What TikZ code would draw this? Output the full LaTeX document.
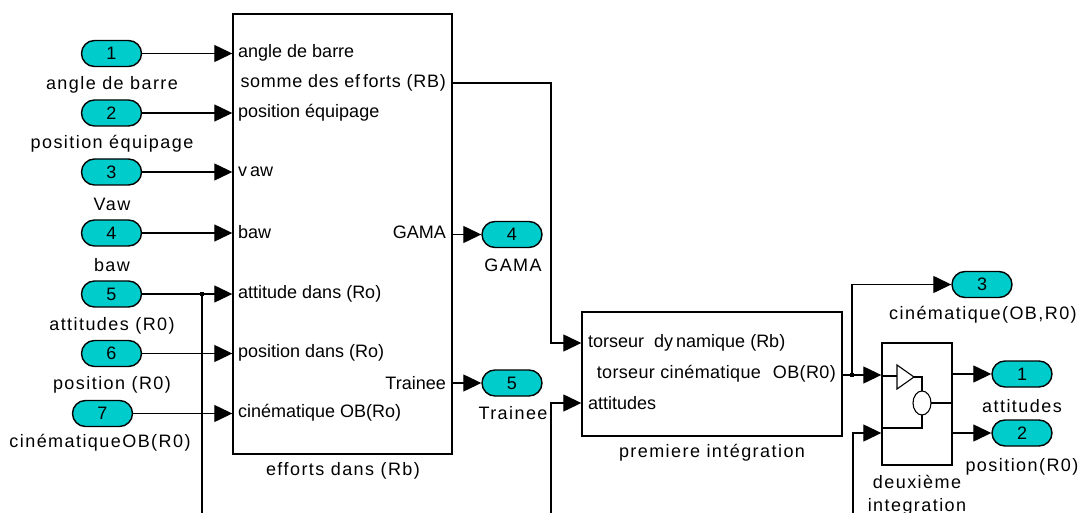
\documentclass[tikz,border=0pt]{standalone}
\usepackage{fontspec}
\setmainfont{Liberation Sans}
\usetikzlibrary{arrows.meta}
\definecolor{portcyan}{RGB}{0,204,204}
\tikzset{
  x=1pt, y=-1pt,
  every node/.style={font=\fontsize{18}{20}\selectfont, inner sep=0pt},
  port/.style={draw, line width=1.4pt, fill=portcyan, minimum width=60pt,
    minimum height=26pt, rounded corners=13pt},
  blockbox/.style={draw, line width=1.4pt, fill=white},
  wire/.style={line width=1.3pt},
  arr/.style={wire, -{Triangle[length=18pt,width=17pt]}},
  plabel/.style={font=\fontsize{18}{20}\selectfont\addfontfeature{LetterSpace=8}},
  inlab/.style={anchor=west},
  outlab/.style={anchor=east},
  dotj/.style={fill=black, minimum size=4.5pt, inner sep=0pt},
}
\begin{document}
\begin{tikzpicture}
\useasboundingbox (0,0) rectangle (1085,513);

% main blocks
\node[blockbox, minimum width=219pt, minimum height=440pt] (eff) at (342.5,234) {};
\node[blockbox, minimum width=260pt, minimum height=124pt] (prem) at (712,374) {};
\node[blockbox, minimum width=70pt, minimum height=122pt] (deux) at (917,404) {};

\node[plabel] at (343,471) {efforts dans (Rb)};
\node[plabel] at (712,453) {premiere intégration};
\node[plabel] at (917,482) {deuxième};
\node[plabel] at (917,507) {integration};

% port labels of the force block
\node[inlab] at (238,53) {angle de barre};
\node[outlab, font=\fontsize{18}{20}\selectfont\addfontfeature{LetterSpace=4}] at (446,83) {somme des ef\hspace{3pt}forts (RB)};
\node[inlab] at (238,113) {position équipage};
\node[inlab] at (238,172) {v\hspace{3pt}aw};
\node[inlab] at (238,232) {baw};
\node[outlab] at (446,232) {GAMA};
\node[inlab] at (238,294) {attitude dans (Ro)};
\node[inlab] at (238,353) {position dans (Ro)};
\node[outlab] at (446,383) {Trainee};
\node[inlab] at (238,413) {cinématique OB(Ro)};

% port labels of the first integration block
\node[inlab] at (588,343) {torseur\hspace{10pt}dy\hspace{3pt}namique (Rb)};
\node[outlab, font=\fontsize{18}{20}\selectfont\addfontfeature{LetterSpace=2}] at (836,374) {torseur cinématique\hspace{12pt}OB(R0)};
\node[inlab] at (588,403) {attitudes};

% inports
\node[port] (in1) at (111.5,53.5) {1};
\node[port] (in2) at (111.5,113) {2};
\node[port] (in3) at (111.5,172) {3};
\node[port] (in4) at (111.5,233) {4};
\node[port] (in5) at (111.5,294) {5};
\node[port] (in6) at (111.5,353.5) {6};
\node[port] (in7) at (102.5,413.5) {7};
\node[plabel] at (112,85) {angle de barre};
\node[plabel] at (112,144) {position équipage};
\node[plabel] at (112,204) {Vaw};
\node[plabel] at (112,265) {baw};
\node[plabel] at (112,326) {attitudes (R0)};
\node[plabel] at (112,385) {position (R0)};
\node[plabel] at (100,443) {cinématiqueOB(R0)};

% outports
\node[port] (out4) at (512,234.5) {4};
\node[port] (out5) at (512,383) {5};
\node[port] (out3) at (982,284.5) {3};
\node[port] (out1) at (1022,374) {1};
\node[port] (out2) at (1022,433) {2};
\node[plabel] at (513,265) {GAMA};
\node[plabel] at (513,413) {Trainee};
\node[plabel] at (983,315) {cinématique(OB,R0)};
\node[plabel] at (1022,406) {attitudes};
\node[plabel] at (1022,467) {position(R0)};

% inputs of the force block
\foreach \p in {1,2,3,4,5,6,7}
  \draw[arr] (in\p.east) -- (in\p.east -| eff.west);

% branch of the attitude signal
\node[dotj] (j1) at (202,294) {};
\coordinate (j1end) at (202,513);
\draw[wire] (j1.center) -- (j1end);

% force block outputs
\coordinate (somme) at (452,83);
\coordinate (sommeturn) at (551,83);
\coordinate (sommein) at (551,343);
\draw[arr] (somme) -- (sommeturn) -- (sommein) -- (sommein -| prem.west);
\draw[arr] (out4.west -| eff.east) -- (out4.west);
\draw[arr] (out5.west -| eff.east) -- (out5.west);

\coordinate (attfeed) at (551,513);
\coordinate (attturn) at (551,403);
\draw[arr] (attfeed) -- (attturn) -- (attturn -| prem.west);

% first integration output
\coordinate (premout) at (842,375);
\node[dotj] (j2) at (852,375) {};
\draw[wire] (premout) -- (j2.center);
\draw[arr] (j2.center) -- (j2.center -| deux.west);
\draw[arr] (j2.center) |- (out3.west);

\coordinate (posfeed) at (853,513);
\coordinate (posturn) at (853,433);
\draw[arr] (posfeed) -- (posturn) -- (posturn -| deux.west);

% second integration outputs
\draw[arr] (out1.west -| deux.east) -- (out1.west);
\draw[arr] (out2.west -| deux.east) -- (out2.west);

% inside the second integration block
\draw[wire] (882,376) -- (897,376);
\draw[line width=1.1pt] (897,365) -- (914,377) -- (897,389) -- cycle;
\draw[wire] (914,377) -- (922,377) -- (922,391);
\draw[line width=1.1pt] (922,403) ellipse [x radius=9, y radius=12];
\draw[wire] (931,403) -- (952,403);
\draw[wire] (922,415) -- (922,428) -- (882,428);
\end{tikzpicture}
\end{document}
